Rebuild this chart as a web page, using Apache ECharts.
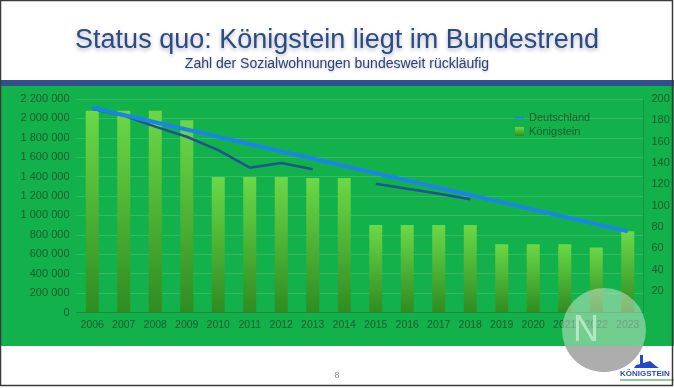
<!DOCTYPE html>
<html>
<head>
<meta charset="utf-8">
<script src="https://cdn.jsdelivr.net/npm/echarts@6/dist/echarts.min.js"></script>
<style>
html,body{margin:0;padding:0;background:#fff;}
#chart{width:674px;height:388px;}
</style>
</head>
<body>
<div id="chart"></div>
<script>
// ---- data ----
var years = ['2006','2007','2008','2009','2010','2011','2012','2013','2014','2015','2016','2017','2018','2019','2020','2021','2022','2023'];
// Königstein social housing units (right axis)
var koenigstein = [189, 189, 189, 180, 127, 127, 127, 126, 126, 82, 82, 82, 82, 64, 64, 64, 61, 76];
// Germany, recorded values (left axis)
var deutschlandIst = [2100000, 2028000, 1915000, 1811000, 1674000, 1492000, 1540000, 1476000, null, 1327000, 1276000, 1224000, 1166000, null, null, null, null, null];
// Germany straight trend line: only the two drawn end points
var deutschlandTrend = [2110000, null, null, null, null, null, null, null, null, null, null, null, null, null, null, null, null, 836000];
var leftTicks = {min: 0, max: 2200000, interval: 200000};
var rightTicks = {min: 0, max: 200, interval: 20};
var titleText = 'Status quo: Königstein liegt im Bundestrend';
var subtitleText = 'Zahl der Sozialwohnungen bundesweit rückläufig';

var chart = echarts.init(document.getElementById('chart'), null, {renderer: 'canvas'});
var labelColor = '#1c5c2b';
var font = 'Liberation Sans, Arial, Helvetica, sans-serif';

function fmtSpace(v) {
  return String(v).replace(/\B(?=(\d{3})+(?!\d))/g, ' ');
}

// decorative watermark geometry (bottom-right overlay seen in the reference)
var wm = {cx: 604, cy: 330, r: 42, cut: 346};
var capPts = [];
(function () {
  var a = Math.asin((wm.cut - wm.cy) / wm.r);
  var n = 40;
  for (var i = 0; i <= n; i++) {
    var t = a + (Math.PI - 2 * a) * i / n;
    capPts.push([wm.cx + wm.r * Math.cos(t), wm.cy + wm.r * Math.sin(t)]);
  }
})();

var option = {
  backgroundColor: '#ffffff',
  animation: false,
  title: [
    {
      text: titleText, left: 'center', top: 22,
      textStyle: {fontFamily: font, fontSize: 27, fontWeight: 'normal', color: '#2c4b80',
        textShadowColor: 'rgba(20,30,80,0.35)', textShadowBlur: 4, textShadowOffsetY: 2}
    },
    {
      text: subtitleText, left: 'center', top: 52,
      textStyle: {fontFamily: font, fontSize: 14, fontWeight: 'normal', color: '#2c4570',
        textShadowColor: 'rgba(20,30,80,0.3)', textShadowBlur: 3, textShadowOffsetY: 1}
    }
  ],
  graphic: [
    {type: 'rect', z: -10, silent: true, shape: {x: 0, y: 80, width: 674, height: 6}, style: {fill: '#2f4f8e'}},
    {type: 'rect', z: -10, silent: true, shape: {x: 0, y: 86, width: 674, height: 260}, style: {fill: '#13b14b'}},
    {type: 'text', z: 10, silent: true, x: 337, y: 376, style: {text: '8', fill: '#888', font: '9px ' + font, textAlign: 'center', textVerticalAlign: 'middle'}},
    // logo
    {type: 'polygon', z: 10, silent: true, shape: {points: [[640,355],[643,355],[643,363],[650,361],[656,366],[659,368],[634,368],[636,365],[640,364]]}, style: {fill: '#2447c8'}},
    {type: 'text', z: 10, silent: true, x: 620, y: 374, style: {text: 'KÖNIGSTEIN', fill: '#2a4bc8', font: 'bold 8px ' + font, textVerticalAlign: 'middle'}},
    {type: 'rect', z: 10, silent: true, shape: {x: 620, y: 379, width: 54, height: 2}, style: {fill: 'rgba(80,160,90,0.6)'}},
    // watermark overlay
    {type: 'circle', z: 50, silent: true, shape: {cx: wm.cx, cy: wm.cy, r: wm.r}, style: {fill: '#e6f0e6', opacity: 0.45}},
    {type: 'polygon', z: 51, silent: true, shape: {points: capPts}, style: {fill: '#adadad'}},
    {type: 'text', z: 52, silent: true, x: 586, y: 331, style: {text: 'N', fill: '#bfeccb', opacity: 0.85, font: '36px ' + font, textAlign: 'center', textVerticalAlign: 'middle'}},
    // frame
    {type: 'rect', z: 200, silent: true, shape: {x: 0.5, y: 0.5, width: 672, height: 385}, style: {fill: 'none', stroke: '#3a3a3a', lineWidth: 1.5}}
  ],
  legend: [
    {
      data: ['Deutschland'], orient: 'vertical', left: 510, top: 107,
      itemWidth: 9, itemHeight: 2, icon: 'rect',
      textStyle: {fontFamily: font, fontSize: 11, color: labelColor}
    },
    {
      data: ['Königstein'], orient: 'vertical', left: 510, top: 121,
      itemWidth: 9, itemHeight: 9, icon: 'rect',
      textStyle: {fontFamily: font, fontSize: 11, color: labelColor}
    }
  ],
  grid: {left: 76.5, right: 30.5, top: 99, bottom: 75.5, containLabel: false},
  xAxis: {
    type: 'category', data: years, boundaryGap: true,
    axisLine: {show: true, lineStyle: {color: '#178a3c', width: 1}},
    axisTick: {show: false},
    axisLabel: {fontFamily: font, fontSize: 10.5, color: labelColor, margin: 7, interval: 0}
  },
  yAxis: [
    {
      type: 'value', min: leftTicks.min, max: leftTicks.max, interval: leftTicks.interval,
      axisLine: {show: false}, axisTick: {show: false},
      axisLabel: {fontFamily: font, fontSize: 11, color: labelColor, margin: 7, formatter: fmtSpace},
      splitLine: {show: true, lineStyle: {color: 'rgba(255,255,255,0.13)', width: 1}}
    },
    {
      type: 'value', min: rightTicks.min, max: rightTicks.max, interval: rightTicks.interval,
      position: 'right',
      axisLine: {show: true, lineStyle: {color: '#179440', width: 1}}, axisTick: {show: false},
      axisLabel: {fontFamily: font, fontSize: 11, color: labelColor, margin: 8,
        formatter: function (v) { return v === 0 ? '' : String(v); }},
      splitLine: {show: false}
    }
  ],
  series: [
    {
      name: 'Königstein', type: 'bar', yAxisIndex: 1, data: koenigstein, barWidth: 13, z: 2,
      itemStyle: {
        color: new echarts.graphic.LinearGradient(0, 0, 0, 1, [
          {offset: 0, color: '#6cd848'},
          {offset: 1, color: '#2f8c22'}
        ])
      }
    },
    {
      name: 'Deutschland Ist', type: 'line', yAxisIndex: 0, data: deutschlandIst, z: 3,
      showSymbol: false, symbol: 'none', connectNulls: false,
      lineStyle: {color: '#1f548f', width: 2.5}, itemStyle: {color: '#1f548f'}
    },
    {
      name: 'Deutschland', type: 'line', yAxisIndex: 0, data: deutschlandTrend, z: 4,
      showSymbol: false, symbol: 'none', connectNulls: true,
      lineStyle: {color: '#1b84ea', width: 4}, itemStyle: {color: '#1b84ea'}
    }
  ]
};
chart.setOption(option);
</script>
</body>
</html>
